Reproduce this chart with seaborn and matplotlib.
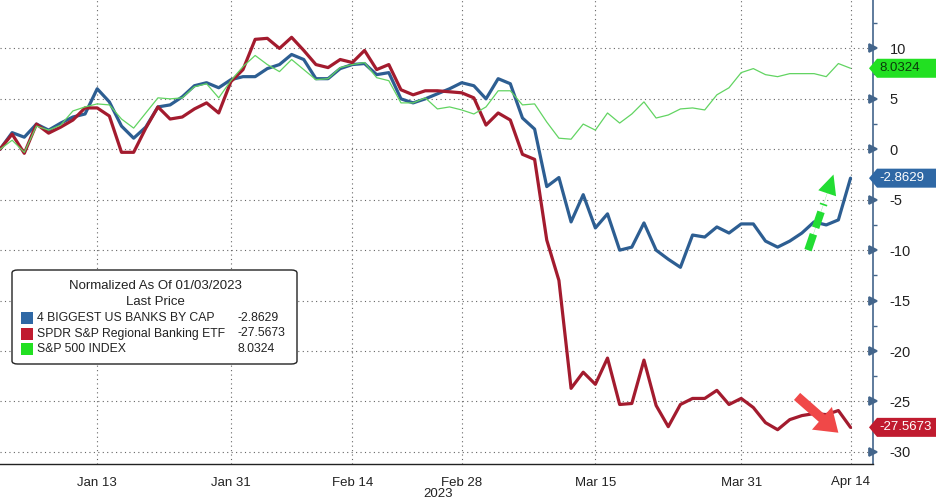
import numpy as np
import pandas as pd
import matplotlib
matplotlib.use("Agg")
import matplotlib.pyplot as plt
import seaborn as sns
from matplotlib.patches import FancyBboxPatch, Rectangle, Polygon

# normalized % change since 01/03/2023, one value per trading day (Jan 3 .. Apr 14)
series_names = ["4 BIGGEST US BANKS BY CAP", "SPDR S&P Regional Banking ETF", "S&P 500 INDEX"]
last_price = [-2.8629, -27.5673, 8.0324]

big_banks = [0, 1.65, 1.2, 2.5, 1.9, 2.6, 3.2, 3.5, 6.0, 4.7,
             2.3, 1.1, 2.2, 4.2, 4.4, 5.2, 6.3, 6.6, 6.1, 6.9,
             7.2, 7.2, 8.0, 8.4, 9.4, 8.9, 7.0, 7.0, 8.0, 8.4,
             8.5, 7.4, 7.6, 5.0, 4.6, 5.0, 5.5, 6.0, 6.6, 6.3,
             5.0, 7.0, 6.5, 3.1, 2.0, -3.7, -2.8, -7.2, -4.5, -7.8,
             -6.4, -10.0, -9.7, -7.3, -10.0, -10.9, -11.7, -8.5, -8.7, -7.7,
             -8.3, -7.4, -7.4, -9.1, -9.7, -9.1, -8.3, -7.2, -7.5, -7.0,
             -2.8629]
regional_etf = [0, 1.5, -0.4, 2.5, 1.6, 2.2, 2.9, 4.1, 4.1, 3.3,
                -0.3, -0.3, 2.1, 4.2, 3.0, 3.2, 4.0, 4.6, 3.6, 6.7,
                7.9, 10.9, 11.0, 10.0, 11.1, 9.8, 8.4, 8.1, 8.9, 8.6,
                9.8, 7.9, 8.4, 5.9, 5.4, 5.8, 5.8, 5.7, 5.6, 5.1,
                2.4, 3.6, 2.9, -0.5, -1.0, -9.0, -13.0, -23.7, -22.1, -23.3,
                -20.7, -25.3, -25.2, -20.9, -25.4, -27.5, -25.3, -24.7, -24.7, -23.9,
                -25.3, -24.7, -25.6, -27.1, -27.8, -26.8, -26.4, -26.2, -26.3, -25.9,
                -27.5673]
spx = [0, 0.9, -0.3, 2.3, 1.9, 2.4, 3.8, 4.2, 4.5, 4.4,
       3.0, 2.1, 3.6, 5.1, 5.0, 5.1, 6.2, 6.5, 5.1, 6.8,
       8.2, 9.3, 8.4, 7.7, 8.9, 7.9, 6.9, 7.0, 8.1, 8.4,
       8.6, 7.1, 6.8, 4.6, 4.6, 5.1, 4.0, 4.2, 3.9, 3.5,
       4.2, 5.8, 5.8, 4.4, 4.5, 2.7, 1.1, 1.0, 2.5, 1.9,
       3.6, 2.6, 3.5, 4.7, 3.1, 3.4, 4.0, 4.1, 3.9, 5.4,
       6.1, 7.6, 8.0, 7.4, 7.2, 7.5, 7.5, 7.5, 7.2, 8.5,
       8.0324]

tick_days = [8, 19, 29, 38, 49, 61, 70]
tick_labels = ["Jan 13", "Jan 31", "Feb 14", "Feb 28", "Mar 15", "Mar 31", "Apr 14"]
minor_days = [3, 14, 24, 34, 44, 55, 66]
y_ticks = [-30, -25, -20, -15, -10, -5, 0, 5, 10]

line_colors = ["#2d5e92", "#a31b2e", "#62d462"]
line_widths = [2.3, 2.3, 0.9]
tag_colors = ["#2f68a5", "#c01b2f", "#22e022"]
tag_text_colors = ["white", "white", "#0b3b0b"]

df = pd.DataFrame({"day": np.arange(len(big_banks)),
                   series_names[0]: big_banks,
                   series_names[1]: regional_etf,
                   series_names[2]: spx})
long = df.melt(id_vars="day", var_name="series", value_name="value")

sns.set_theme(style="white")
plt.rcParams["font.family"] = ["Liberation Sans", "DejaVu Sans"]

W, H = 936, 504
fig = plt.figure(figsize=(W / 100, H / 100), dpi=100)
fig.patch.set_facecolor("white")
ax = fig.add_axes([0, 1 - 464 / H, 873 / W, 464 / H])


def px(x, y):
    return x / W, 1 - y / H


for name, col, lw in zip(series_names, line_colors, line_widths):
    sns.lineplot(data=long[long["series"] == name], x="day", y="value",
                 color=col, linewidth=lw, ax=ax, zorder=3)

ax.set_xlim(0, 71.85)
ax.set_ylim(-31.2, 14.8)
ax.set_xlabel("")
ax.set_ylabel("")

ax.set_xticks(tick_days)
ax.set_xticklabels(tick_labels, fontsize=9.5, color="#222222")
ax.set_xticks(minor_days, minor=True)
ax.yaxis.tick_right()
ax.set_yticks(y_ticks)
ax.set_yticklabels([str(t) for t in y_ticks], fontsize=10.5, color="#222222")
ax.set_yticks(np.arange(-27.5, 14, 5), minor=True)

ax.grid(True, which="major", color="#666666", linestyle=(0, (1, 3)), linewidth=0.8)
for s in ["left", "top"]:
    ax.spines[s].set_visible(False)
ax.spines["right"].set_color("#43658b")
ax.spines["right"].set_linewidth(1.2)
ax.spines["bottom"].set_color("#222222")
ax.spines["bottom"].set_linewidth(1.0)

ax.tick_params(axis="x", which="both", length=3, direction="out", color="#555555", pad=6)
ax.tick_params(axis="y", which="major", length=6, color="#43658b", pad=6)
ax.tick_params(axis="y", which="minor", length=3, direction="out", color="#43658b")
for t in ax.yaxis.get_major_ticks():
    t.tick2line.set_marker(">")
    t.tick2line.set_markersize(6)
    t.tick2line.set_markerfacecolor("#43658b")

fig.text(*px(438, 494), "2023", ha="center", va="center", fontsize=9.5, color="#222222")

# arrows
ax.annotate("", xy=(69.0, -28.1), xytext=(65.6, -24.5), zorder=6,
            arrowprops=dict(arrowstyle="simple,head_length=1.05,head_width=1.45,tail_width=0.45",
                            color="#f04848", lw=0, shrinkA=0, shrinkB=0, mutation_scale=15))
ax.plot([66.5, 67.8], [-10.0, -5.4], color="#22dd33", linewidth=5.5,
        linestyle=(0, (2.2, 0.9)), solid_capstyle="butt", dash_capstyle="butt", zorder=6)
ax.annotate("", xy=(68.6, -2.5), xytext=(66.5, -10.0), zorder=6,
            arrowprops=dict(arrowstyle="simple,head_length=0.95,head_width=0.9,tail_width=0.01",
                            color="#22dd33", lw=0, shrinkA=0, shrinkB=0, mutation_scale=15))

# value tags on the right axis
fig.canvas.draw()
for v, bg, tc in zip(last_price, tag_colors, tag_text_colors):
    yd = ax.transData.transform((0, v))[1]
    yc = H - yd
    pts = [px(869, yc), px(877, yc - 9.5), px(936, yc - 9.5), px(936, yc + 9.5), px(877, yc + 9.5)]
    fig.add_artist(Polygon(pts, closed=True, transform=fig.transFigure,
                           facecolor=bg, edgecolor="none", zorder=4))
    fig.text(*px(879, yc), f"{v:.4f}", ha="left", va="center", fontsize=9.5,
             color=tc, zorder=5)

# legend box
fig.add_artist(FancyBboxPatch(px(12, 364), (297 - 12) / W, (364 - 270) / H,
                              boxstyle="round,pad=0,rounding_size=0.006",
                              transform=fig.transFigure, facecolor="white",
                              edgecolor="#222222", linewidth=1.0, zorder=3))
fig.text(*px(155, 286), "Normalized As Of 01/03/2023", ha="center", va="center",
         fontsize=9.5, color="#222222", zorder=4)
fig.text(*px(155, 302), "Last Price", ha="center", va="center",
         fontsize=9.5, color="#222222", zorder=4)
for k, (name, col, val) in enumerate(zip(series_names, tag_colors, last_price)):
    ry = 318 + k * 15.5
    fig.add_artist(Rectangle(px(21, ry + 6), 12 / W, 12 / H, transform=fig.transFigure,
                             facecolor=col, edgecolor="none", zorder=4))
    fig.text(*px(37, ry), name, ha="left", va="center", fontsize=8.8,
             color="#222222", zorder=4)
    fig.text(*px(237, ry), f"{val:.4f}", ha="left", va="center", fontsize=8.8,
             color="#222222", zorder=4)

fig.savefig("out.png", dpi=100, facecolor="white")
